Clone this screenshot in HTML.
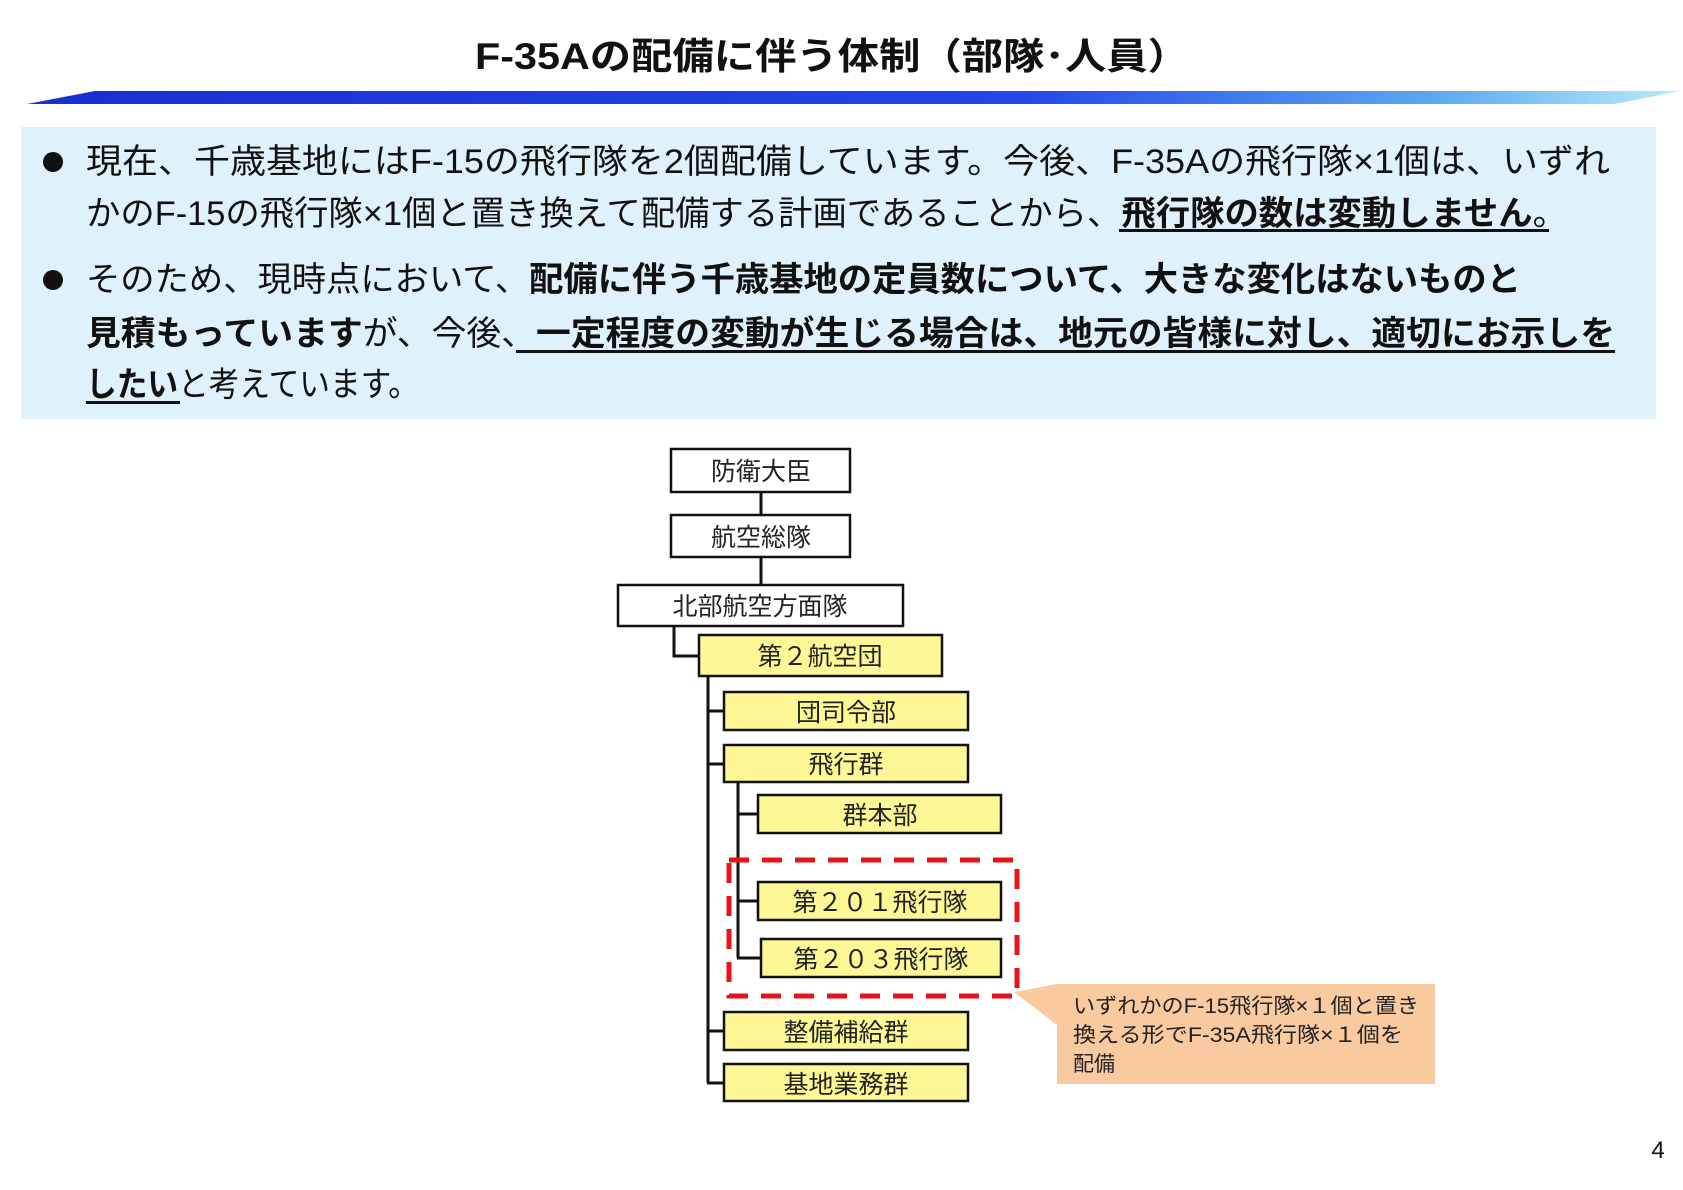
<!DOCTYPE html>
<html><head><meta charset="utf-8"><style>
html,body{margin:0;padding:0;background:#fff;}
svg{display:block;}
text{font-family:"Liberation Sans","Noto Sans CJK JP",sans-serif;}
</style></head><body>
<svg width="1683" height="1190" viewBox="0 0 1683 1190" xmlns="http://www.w3.org/2000/svg">
<defs>
<linearGradient id="bar" x1="0" x2="1" y1="0" y2="0">
<stop offset="0" stop-color="#1a2fd0"/><stop offset="0.6" stop-color="#2246e8"/><stop offset="0.85" stop-color="#5aa8f0"/><stop offset="1" stop-color="#b8ecf8"/>
</linearGradient>
</defs>
<text x="832" y="69" text-anchor="middle" font-size="37" font-weight="bold" fill="#111" textLength="714" lengthAdjust="spacingAndGlyphs">F-35Aの配備に伴う体制（部隊･人員）</text>
<polygon points="27,104 95,91 1680,91 1615,104" fill="url(#bar)"/>
<rect x="21" y="127" width="1635" height="292" fill="#dff2fb"/>
<circle cx="53" cy="162" r="10" fill="#111"/>
<circle cx="53" cy="280" r="10" fill="#111"/>
<g font-size="34" fill="#111">
<text x="86" y="173" textLength="1524" lengthAdjust="spacingAndGlyphs">現在、千歳基地にはF-15の飛行隊を2個配備しています。今後、F-35Aの飛行隊×1個は、いずれ</text>
<text x="86" y="225" textLength="1481" lengthAdjust="spacingAndGlyphs">かのF-15の飛行隊×1個と置き換えて配備する計画であることから、<tspan font-weight="bold">飛行隊の数は変動しません</tspan>。</text>
<text x="86" y="291" textLength="1435" lengthAdjust="spacingAndGlyphs">そのため、現時点において、<tspan font-weight="bold">配備に伴う千歳基地の定員数について、大きな変化はないものと</tspan></text>
<text x="86" y="345" textLength="1529" lengthAdjust="spacingAndGlyphs"><tspan font-weight="bold">見積もっています</tspan>が、今後、<tspan font-weight="bold">一定程度の変動が生じる場合は、地元の皆様に対し、適切にお示しを</tspan></text>
<text x="86" y="396" textLength="333" lengthAdjust="spacingAndGlyphs"><tspan font-weight="bold">したい</tspan>と考えています。</text>
</g>
<rect x="1119" y="229" width="430" height="3" fill="#111"/>
<rect x="516" y="350" width="1099" height="3" fill="#111"/>
<rect x="86" y="401" width="94" height="3" fill="#111"/>

<g stroke="#111" stroke-width="3" fill="none">
<line x1="761" y1="492" x2="761" y2="515"/>
<line x1="761" y1="557" x2="761" y2="585"/>
<polyline points="674,626 674,656 699,656"/>
<line x1="708" y1="676" x2="708" y2="1083"/>
<line x1="708" y1="711" x2="724" y2="711"/>
<line x1="708" y1="764" x2="724" y2="764"/>
<line x1="708" y1="1031" x2="724" y2="1031"/>
<line x1="707" y1="1083" x2="724" y2="1083"/>
<line x1="738" y1="782" x2="738" y2="958"/>
<line x1="738" y1="814" x2="758" y2="814"/>
<line x1="738" y1="901" x2="758" y2="901"/>
<line x1="737" y1="958" x2="761" y2="958"/>
</g>
<g stroke="#111" stroke-width="2.5">
<rect x="671" y="449" width="179" height="43" fill="#fff"/>
<rect x="671" y="515" width="179" height="42" fill="#fff"/>
<rect x="618" y="585" width="285" height="41" fill="#fff"/>
<rect x="699" y="635" width="243" height="41" fill="#fdf796"/>
<rect x="724" y="692" width="244" height="38" fill="#fdf796"/>
<rect x="724" y="745" width="244" height="37" fill="#fdf796"/>
<rect x="758" y="795" width="243" height="38" fill="#fdf796"/>
<rect x="758" y="882" width="243" height="38" fill="#fdf796"/>
<rect x="761" y="939" width="240" height="38" fill="#fdf796"/>
<rect x="724" y="1012" width="244" height="38" fill="#fdf796"/>
<rect x="724" y="1064" width="244" height="37" fill="#fdf796"/>
</g>
<g font-size="25" fill="#222" text-anchor="middle">
<text x="761" y="480">防衛大臣</text>
<text x="761" y="546">航空総隊</text>
<text x="760" y="615">北部航空方面隊</text>
<text x="820" y="665">第２航空団</text>
<text x="846" y="721">団司令部</text>
<text x="846" y="773">飛行群</text>
<text x="880" y="824">群本部</text>
<text x="880" y="911">第２０１飛行隊</text>
<text x="881" y="968">第２０３飛行隊</text>
<text x="846" y="1041">整備補給群</text>
<text x="846" y="1093">基地業務群</text>
</g>
<rect x="729" y="860" width="288" height="136" fill="none" stroke="#e8121b" stroke-width="5" stroke-dasharray="20,13"/>
<polygon points="1057,984 1014,992 1057,1025" fill="#f9c9a0"/>
<rect x="1057" y="984" width="378" height="100" fill="#f9c9a0"/>
<g font-size="21" fill="#222">
<text x="1073" y="1013" textLength="346" lengthAdjust="spacingAndGlyphs">いずれかのF-15飛行隊×１個と置き</text>
<text x="1073" y="1042" textLength="330" lengthAdjust="spacingAndGlyphs">換える形でF-35A飛行隊×１個を</text>
<text x="1073" y="1071">配備</text>
</g>
<text x="1658" y="1158" font-size="24" fill="#111" text-anchor="middle">4</text>
</svg>
</body></html>
